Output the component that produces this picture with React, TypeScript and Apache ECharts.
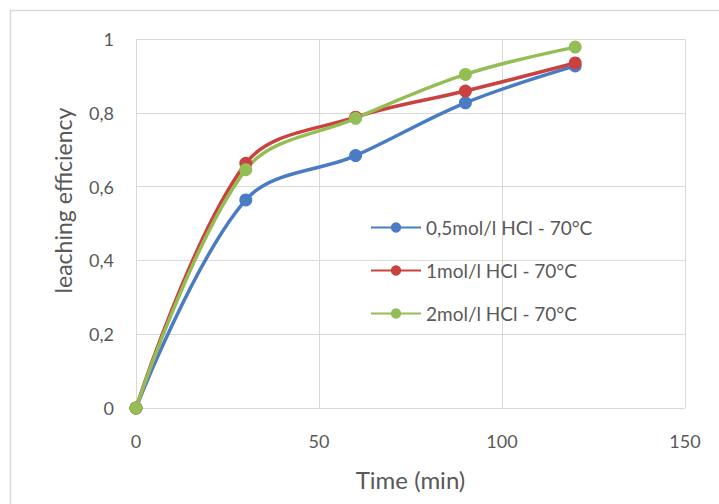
import React, { useEffect, useRef } from "react";
import * as echarts from "echarts";

const times = [0, 30, 60, 90, 120];
const seriesNames = ["0,5mol/l HCl - 70°C", "1mol/l HCl - 70°C", "2mol/l HCl - 70°C"];
const blueValues = [0, 0.564, 0.684, 0.827, 0.927];
const redValues = [0, 0.663, 0.788, 0.859, 0.935];
const greenValues = [0, 0.646, 0.785, 0.904, 0.978];
const colors = ["#4A7CC4", "#C9423F", "#94BE55"];

export default function App() {
  const ref = useRef<HTMLDivElement>(null);
  useEffect(() => {
    if (!ref.current) return;
    const chart = echarts.init(ref.current, null, { renderer: "svg" });
    const allValues = [blueValues, redValues, greenValues];
    const font = "Lato, 'Open Sans', sans-serif";
    chart.setOption({
      animation: false,
      backgroundColor: "#ffffff",
      textStyle: { fontFamily: font },
      graphic: [
        {
          type: "rect",
          shape: { x: 10.5, y: 10.5, width: 720, height: 500 },
          style: { fill: "none", stroke: "#d9d9d9", lineWidth: 1.5 },
          silent: true,
        },
      ],
      grid: { left: 136, right: 34, top: 39, bottom: 96, containLabel: false },
      legend: {
        orient: "vertical",
        left: 365,
        top: 213,
        itemGap: 24,
        itemWidth: 50,
        itemHeight: 13,
        textStyle: { fontSize: 19, color: "#595959", fontFamily: font },
        data: seriesNames,
      },
      xAxis: {
        type: "value",
        min: 0,
        max: 150,
        interval: 50,
        name: "Time (min)",
        nameLocation: "middle",
        nameGap: 59,
        nameTextStyle: { fontSize: 24, color: "#595959", fontFamily: font },
        axisLine: { show: false },
        axisTick: { show: false },
        axisLabel: { fontSize: 18, color: "#595959", margin: 24, fontFamily: font },
        splitLine: { show: true, lineStyle: { color: "#d9d9d9", width: 1 } },
      },
      yAxis: {
        type: "value",
        min: 0,
        max: 1,
        interval: 0.2,
        name: "leaching efficiency",
        nameLocation: "middle",
        nameGap: 62,
        nameTextStyle: {
          fontSize: 23,
          color: "#595959",
          fontFamily: font,
          padding: [0, 0, 0, 46],
        },
        axisLine: { show: false },
        axisTick: { show: false },
        axisLabel: {
          fontSize: 18,
          color: "#595959",
          margin: 22,
          fontFamily: font,
          formatter: (v: number) => String(Math.round(v * 10) / 10).replace(".", ","),
        },
        splitLine: { show: true, lineStyle: { color: "#d9d9d9", width: 1 } },
      },
      series: seriesNames.map((name, i) => ({
        name,
        type: "line",
        smooth: 0.35,
        symbol: "circle",
        symbolSize: 13,
        data: times.map((t, j) => [t, allValues[i][j]]),
        lineStyle: { color: colors[i], width: 3.5 },
        itemStyle: { color: colors[i] },
      })),
    });
    return () => chart.dispose();
  }, []);
  return (
    <div
      ref={ref}
      style={{ position: "absolute", left: 0, top: 0, width: 719, height: 504 }}
    />
  );
}
